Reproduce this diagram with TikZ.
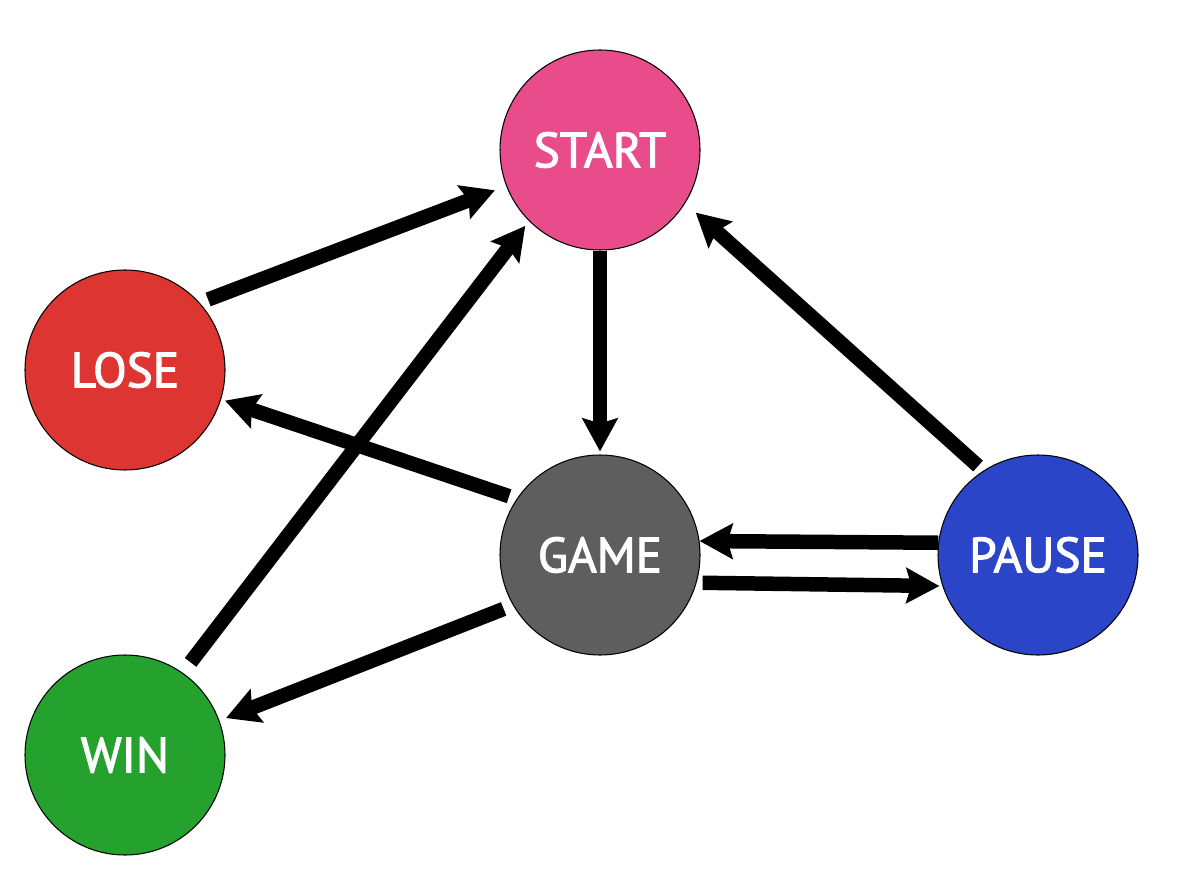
\documentclass[tikz,border=0pt]{standalone}
\usepackage{fontspec}
\setmainfont{PT Sans}
\newfontfamily\statefont[FakeBold=2.2]{PT Sans}
\usepackage{xcolor}
\usetikzlibrary{arrows.meta}
\definecolor{startpink}{HTML}{E84C8B}
\definecolor{losered}{HTML}{DC3532}
\definecolor{gamegray}{HTML}{5E5E5E}
\definecolor{pauseblue}{HTML}{2B45C8}
\definecolor{wingreen}{HTML}{25A22E}

\begin{document}
\begin{tikzpicture}[
      state/.style={circle, draw=black, line width=0.6pt, minimum size=4cm,
                    inner sep=0pt, text=white,
                    font=\statefont\fontsize{28}{30}\selectfont},
      arr/.style={-{Stealth[length=0.66cm, width=0.7cm, inset=0.1cm]},
                  line width=0.29cm},
    ]
    \useasboundingbox (0,0) rectangle (24,-17.82);

    % ── States ──
    \node[state, fill=startpink] (start) at (12,-3) {START};
    \node[state, fill=losered] (lose) at (2.5,-7.4) {LOSE};
    \node[state, fill=gamegray] (game) at (12,-11.1) {GAME};
    \node[state, fill=pauseblue] (pause) at (20.76,-11.1) {PAUSE};
    \node[state, fill=wingreen] (win) at (2.5,-15.1) {WIN};

    % ── Transitions ──
    \draw[arr, shorten <=0.18cm, shorten >=0.24cm] (lose.42) -- (start.201);
    \draw[arr, shorten >=0.06cm] (start.south) -- (game.north);
    \draw[arr, shorten <=0.14cm, shorten >=0.28cm] (pause.123) -- (start.-32);
    \draw[arr, shorten <=0.16cm, shorten >=0.08cm] (game.146) -- (lose.-17);
    \draw[arr, shorten <=0.26cm, shorten >=0.12cm] (win.55) -- (start.225);
    \draw[arr, shorten <=0.2cm, shorten >=0.14cm] (game.210) -- (win.20);

    % pause <-> game
    \draw[arr] (pause.173) -- (game.8.5);
    \draw[arr, shorten <=0.12cm, shorten >=0.06cm] (game.-16.4) -- (pause.198.6);
  \end{tikzpicture}
\end{document}
